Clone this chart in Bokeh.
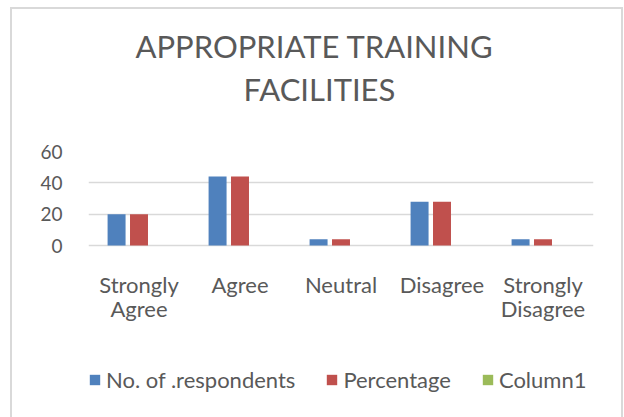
from bokeh.plotting import figure
from bokeh.models import (FactorRange, Range1d, Title, Legend, LegendItem, ColumnDataSource,
                          CategoricalAxis, CustomJSTickFormatter)
from bokeh.transform import dodge
from bokeh.embed import file_html
from bokeh.resources import INLINE

categories = ["Strongly Agree", "Agree", "Neutral", "Disagree", "Strongly Disagree"]
respondents = [20, 44, 4, 28, 4]
percentage = [20, 44, 4, 28, 4]
column1 = [float("nan")] * 5
y_ticks = [0, 20, 40, 60]
label_line1 = {"Strongly Agree": "Strongly", "Agree": "Agree", "Neutral": "Neutral",
               "Disagree": "Disagree", "Strongly Disagree": "Strongly"}
label_line2 = {"Strongly Agree": "Agree", "Agree": " ", "Neutral": " ",
               "Disagree": " ", "Strongly Disagree": "Disagree"}

FONT = "Lato"
TXT = "#595959"

# plot frame: 94 px for 0..60, extended downward so that labels and legend sit inside it
PX_PER_UNIT = 94 / 60
Y_MIN = -172 / PX_PER_UNIT

source = ColumnDataSource(dict(cat=categories, resp=respondents, pct=percentage, col1=column1))

p = figure(x_range=FactorRange(*categories, range_padding=0), y_range=Range1d(Y_MIN, 60),
           frame_width=505, frame_height=266, output_backend="svg", toolbar_location=None,
           min_border_left=76, min_border_right=28, min_border_top=142, min_border_bottom=0)

p.styles = {"margin-left": "10px", "margin-top": "7px",
            "border-top": "2px solid #d9d9d9", "border-left": "2px solid #d9d9d9",
            "border-right": "2px solid #d9d9d9"}

r1 = p.vbar(x=dodge("cat", -0.222, range=p.x_range), top="resp", width=0.178, source=source,
            fill_color="#4f81bd", line_color=None)
r2 = p.vbar(x=dodge("cat", 0.0, range=p.x_range), top="pct", width=0.178, source=source,
            fill_color="#c0504d", line_color=None)
r3 = p.vbar(x=dodge("cat", 0.222, range=p.x_range), top="col1", width=0.178, source=source,
            fill_color="#9bbb59", line_color=None)

# spacer between title and plot area
p.add_layout(Title(text=" ", text_font_size="1px", standoff=39), "above")
p.add_layout(Title(text="FACILITIES", text_font=FONT, text_font_size="31px",
                   text_font_style="normal", text_color=TXT, align="left", offset=155,
                   standoff=3), "above")
p.add_layout(Title(text="APPROPRIATE TRAINING", text_font=FONT, text_font_size="31px",
                   text_font_style="normal", text_color=TXT, align="left", offset=47,
                   standoff=3), "above")

p.outline_line_color = None
p.xgrid.grid_line_color = None
p.ygrid.grid_line_color = "#d9d9d9"
p.ygrid.grid_line_width = 1.5
p.yaxis.ticker = y_ticks

xaxis2 = CategoricalAxis()
p.add_layout(xaxis2, "below")

for ax in (p.xaxis[0], p.yaxis[0], xaxis2):
    ax.axis_line_color = None
    ax.major_tick_line_color = None
    ax.minor_tick_line_color = None
    ax.major_label_text_font = FONT
    ax.major_label_text_font_size = "22px"
    ax.major_label_text_color = TXT
p.yaxis.major_label_text_font_size = "19px"
p.yaxis.major_label_standoff = 20
p.xaxis[0].fixed_location = 0
p.xaxis[0].major_label_standoff = 19
p.xaxis[0].formatter = CustomJSTickFormatter(args=dict(m=label_line1), code="return m[tick] || tick;")
xaxis2.fixed_location = 0
xaxis2.major_label_standoff = 43
xaxis2.formatter = CustomJSTickFormatter(args=dict(m=label_line2), code="return m[tick] || tick;")

legend = Legend(items=[LegendItem(label="No. of .respondents", renderers=[r1]),
                       LegendItem(label="Percentage", renderers=[r2]),
                       LegendItem(label="Column1", renderers=[r3])],
                orientation="horizontal", location=(0, 24),
                label_text_font=FONT, label_text_font_size="22px", label_text_color=TXT,
                glyph_width=13, glyph_height=13, spacing=30, label_standoff=5,
                border_line_color=None, background_fill_alpha=0, margin=0, padding=0)
p.add_layout(legend, "center")

open("out.html", "w").write(file_html(p, INLINE))
